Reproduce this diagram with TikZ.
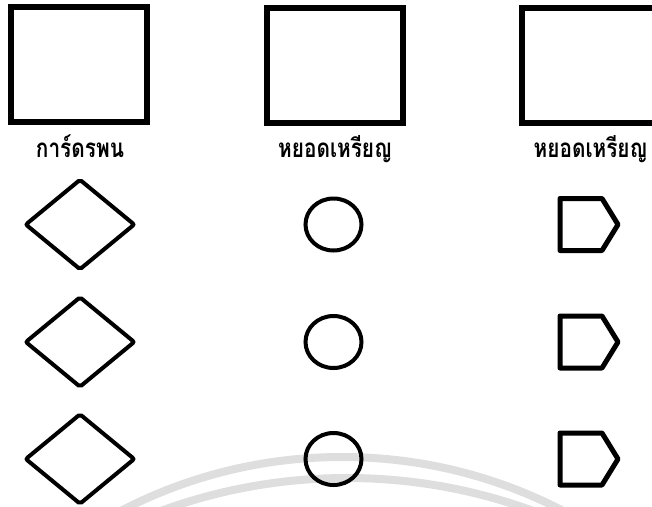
\documentclass[tikz,border=0pt]{standalone}
\usepackage{fontspec}
\newfontfamily\thaifont[Script=Thai]{Loma}
\usetikzlibrary{shapes.geometric}
\begin{document}
\begin{tikzpicture}[x=1pt,y=-1pt,
  frame/.style={draw=black, line width=6pt, minimum width=136pt, minimum height=115pt, inner sep=0pt},
  lbl/.style={font=\thaifont\bfseries\fontsize{26}{30}\selectfont, inner sep=0pt, anchor=base, xscale=0.8},
  dia/.style={diamond, draw=black, line width=4pt, minimum width=110pt, minimum height=91pt, inner sep=0pt, rounded corners=2pt},
  oval/.style={ellipse, draw=black, line width=4pt, minimum width=56pt, minimum height=52pt, inner sep=0pt},
  penta/.style={draw=black, line width=5pt, line join=round},
  wm/.style={draw=black!13, line width=8pt}
]
\useasboundingbox (0,0) rectangle (652,506);
\clip (0,0) rectangle (652,506);
% faint watermark arcs
\draw[wm] (342,937) circle[radius=480];
\draw[wm] (347,1018) circle[radius=540];
% top frames
\node[frame] (f1) at (79,64.5) {};
\node[frame] (f2) at (334.5,65) {};
\node[frame] (f3) at (590,65.5) {};
% labels
\node[lbl] (t1) at (80,157) {การ์ดรพน};
\node[lbl] (t2) at (335,157) {หยอดเหรียญ};
\node[lbl] (t3) at (590.5,157) {หยอดเหรียญ};
% rows
\foreach \r/\y in {1/224.5,2/342,3/459}{
  \node[dia] (d\r) at (80,\y) {};
  \node[oval] (c\r) at (333.5,\y) {};
  \coordinate (p\r) at (589,\y);
  \draw[penta] ([shift={(-29,-26)}]p\r) -- ([shift={(13,-26)}]p\r) -- ([shift={(29,0)}]p\r) -- ([shift={(13,26)}]p\r) -- ([shift={(-29,26)}]p\r) -- cycle;
}
\end{tikzpicture}
\end{document}
